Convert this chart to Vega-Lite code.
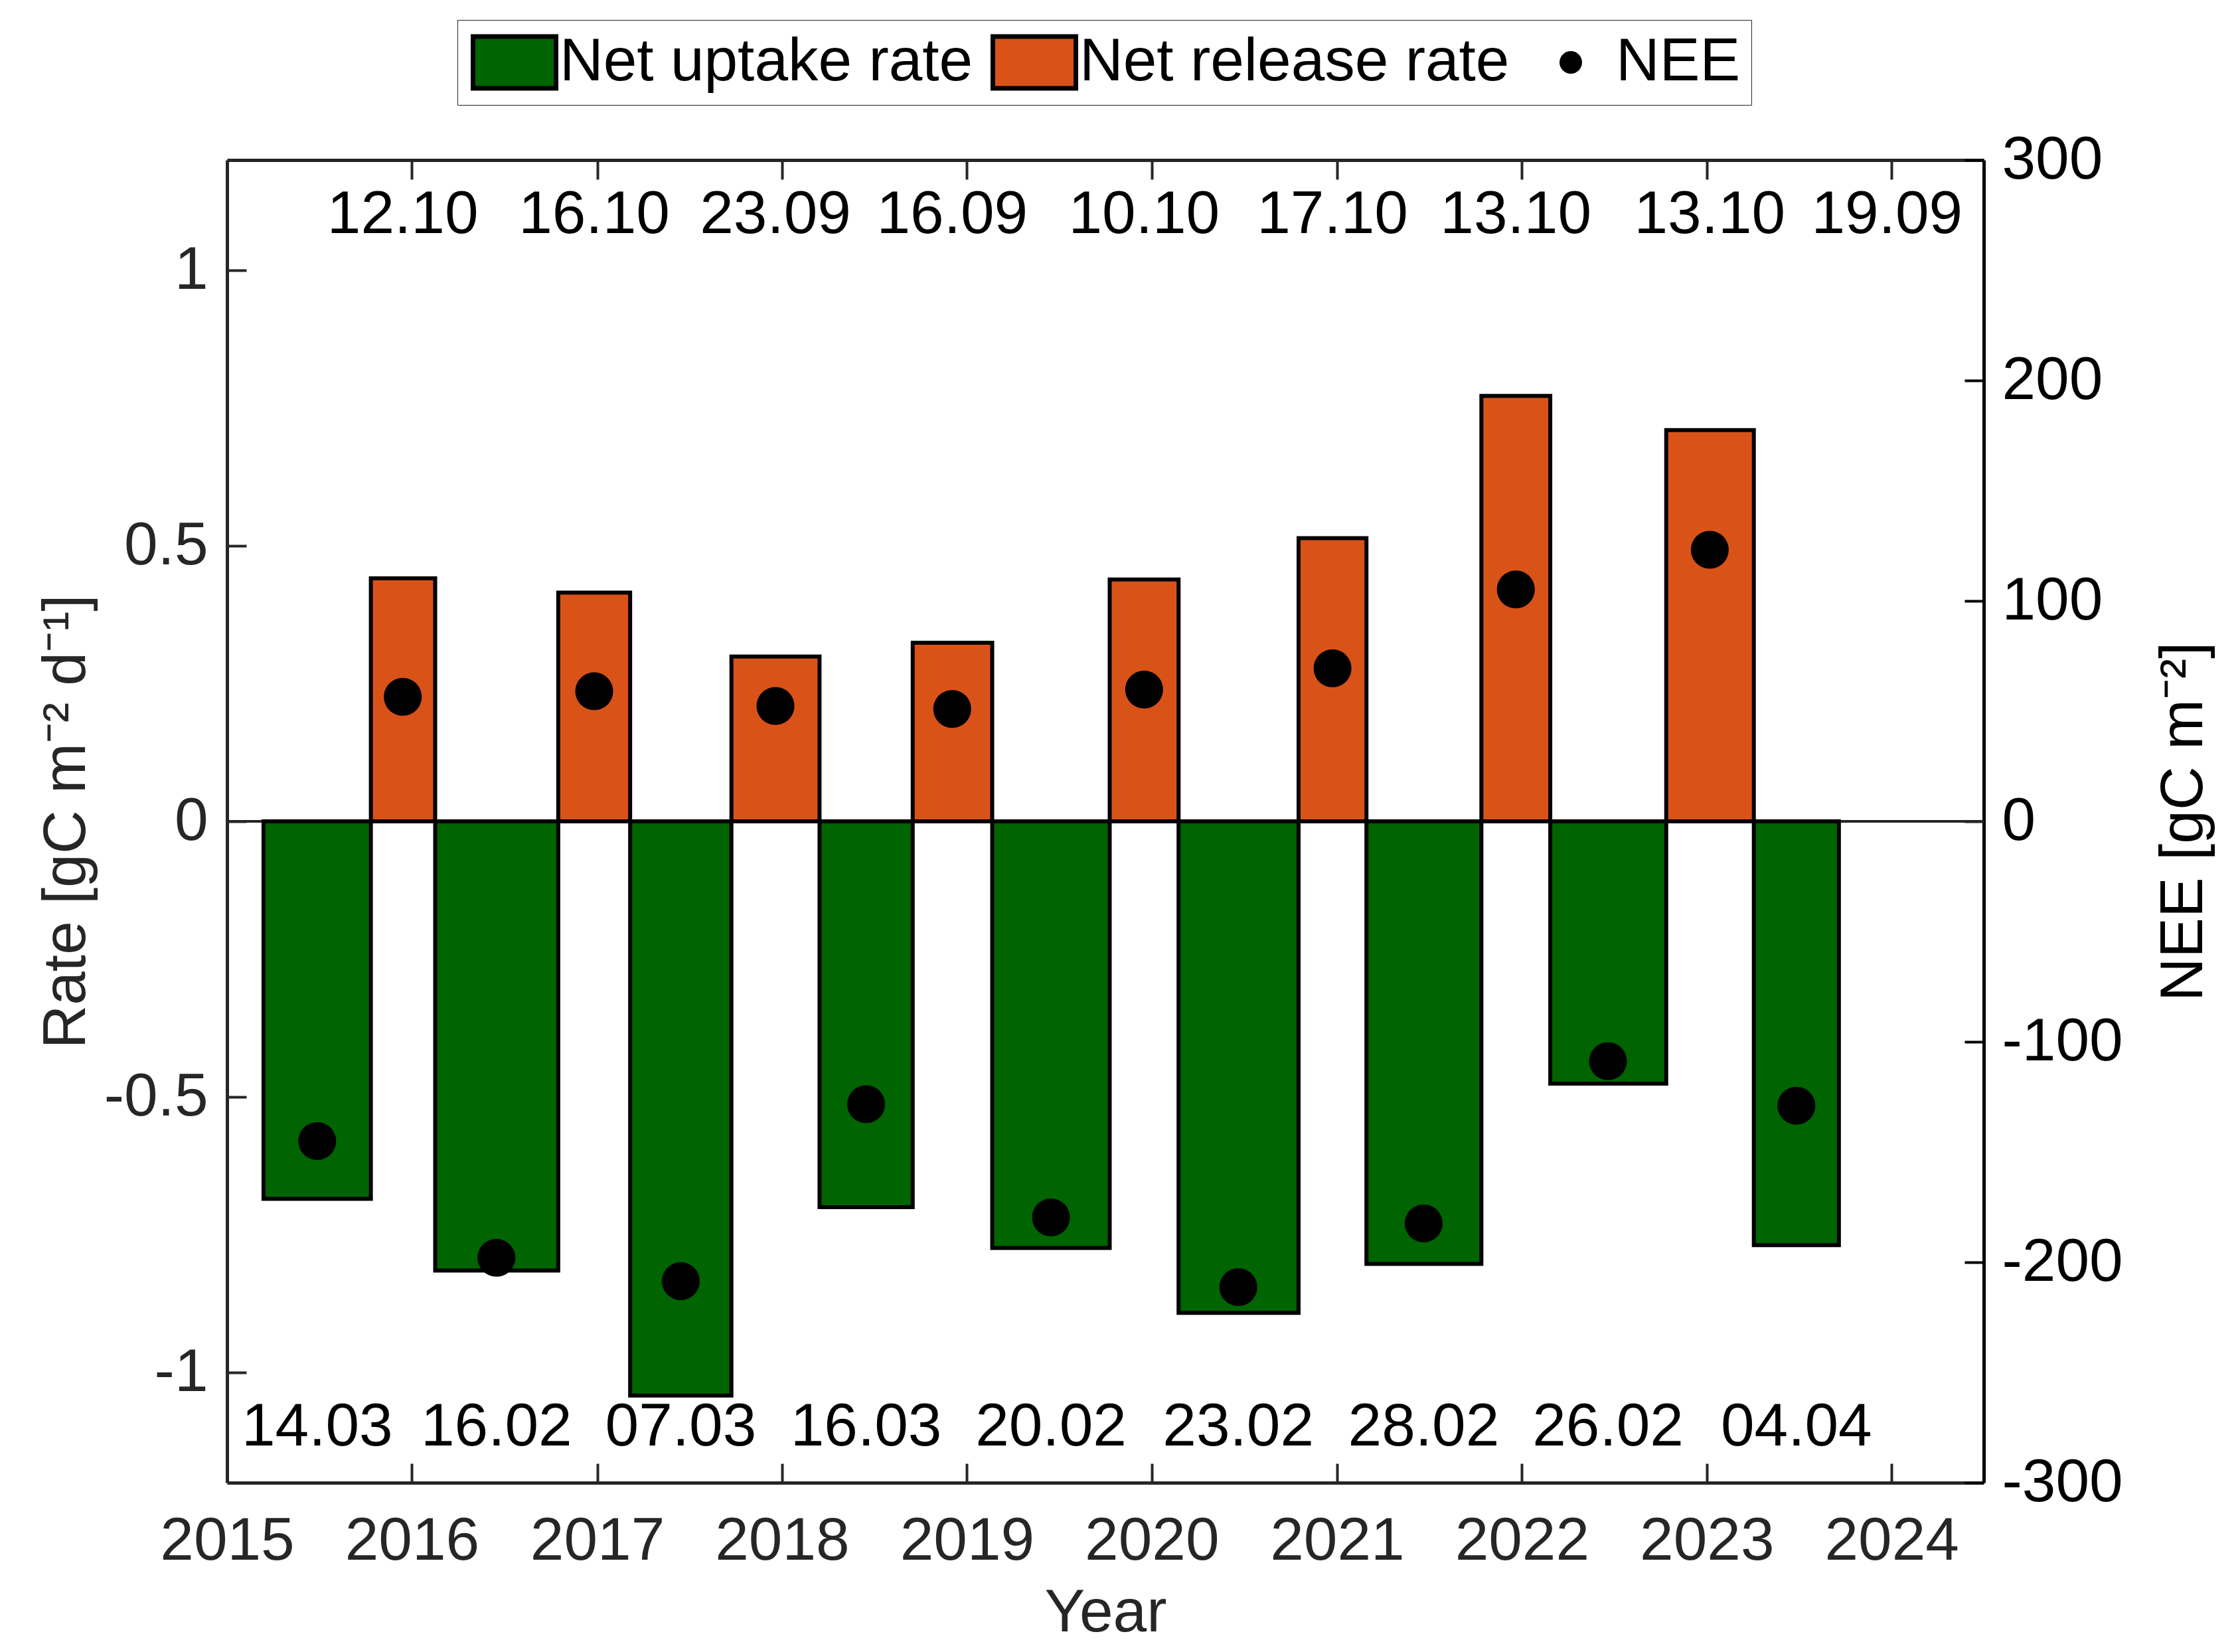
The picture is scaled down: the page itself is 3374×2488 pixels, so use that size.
{
  "$schema": "https://vega.github.io/schema/vega-lite/v6.json",
  "width": 2646,
  "height": 1992,
  "autosize": {"type": "none"},
  "padding": {"left": 342, "top": 241, "right": 386, "bottom": 255},
  "background": "white",
  "config": {
    "font": "Liberation Sans",
    "view": {"stroke": null},
    "axis": {
      "grid": false,
      "labelFont": "Liberation Sans",
      "titleFont": "Liberation Sans",
      "labelFontSize": 91,
      "titleFontSize": 91,
      "titleFontWeight": "normal",
      "tickSize": -29,
      "tickWidth": 4,
      "domainWidth": 5,
      "labelLimit": 600,
      "labelOverlap": false,
      "labelFlush": false,
      "labelBound": false
    },
    "legend": {
      "title": null,
      "orient": "none",
      "legendX": 347,
      "legendY": -211,
      "direction": "horizontal",
      "columns": 3,
      "symbolSize": 15625,
      "symbolOffset": 4,
      "symbolOpacity": 1,
      "clipHeight": 96,
      "labelFont": "Liberation Sans",
      "labelFontSize": 91,
      "labelColor": "black",
      "labelOffset": 2,
      "labelLimit": 1000,
      "columnPadding": 22,
      "padding": 16,
      "strokeColor": "#262626",
      "fillColor": "white"
    }
  },
  "datasets": {
    "bars": [
      {"series": "Net uptake rate", "start": "2015-03-14", "end": "2015-10-12", "mid": "2015-06-28", "rate": -0.685, "nee": -145},
      {"series": "Net release rate", "start": "2015-10-12", "end": "2016-02-16", "mid": "2015-12-14", "rate": 0.441, "nee": 56.5},
      {"series": "Net uptake rate", "start": "2016-02-16", "end": "2016-10-16", "mid": "2016-06-16", "rate": -0.815, "nee": -198},
      {"series": "Net release rate", "start": "2016-10-16", "end": "2017-03-07", "mid": "2016-12-26", "rate": 0.415, "nee": 59},
      {"series": "Net uptake rate", "start": "2017-03-07", "end": "2017-09-23", "mid": "2017-06-15", "rate": -1.042, "nee": -208.6},
      {"series": "Net release rate", "start": "2017-09-23", "end": "2018-03-16", "mid": "2017-12-19", "rate": 0.299, "nee": 52.3},
      {"series": "Net uptake rate", "start": "2018-03-16", "end": "2018-09-16", "mid": "2018-06-16", "rate": -0.700, "nee": -128.3},
      {"series": "Net release rate", "start": "2018-09-16", "end": "2019-02-20", "mid": "2018-12-03", "rate": 0.324, "nee": 51},
      {"series": "Net uptake rate", "start": "2019-02-20", "end": "2019-10-10", "mid": "2019-06-16", "rate": -0.774, "nee": -179.7},
      {"series": "Net release rate", "start": "2019-10-10", "end": "2020-02-23", "mid": "2019-12-17", "rate": 0.439, "nee": 59.8},
      {"series": "Net uptake rate", "start": "2020-02-23", "end": "2020-10-17", "mid": "2020-06-20", "rate": -0.892, "nee": -211.3},
      {"series": "Net release rate", "start": "2020-10-17", "end": "2021-02-28", "mid": "2020-12-23", "rate": 0.514, "nee": 69.4},
      {"series": "Net uptake rate", "start": "2021-02-28", "end": "2021-10-13", "mid": "2021-06-21", "rate": -0.803, "nee": -182.4},
      {"series": "Net release rate", "start": "2021-10-13", "end": "2022-02-26", "mid": "2021-12-20", "rate": 0.772, "nee": 105.2},
      {"series": "Net uptake rate", "start": "2022-02-26", "end": "2022-10-13", "mid": "2022-06-20", "rate": -0.476, "nee": -108.8},
      {"series": "Net release rate", "start": "2022-10-13", "end": "2023-04-04", "mid": "2023-01-07", "rate": 0.710, "nee": 123.2},
      {"series": "Net uptake rate", "start": "2023-04-04", "end": "2023-09-19", "mid": "2023-06-27", "rate": -0.769, "nee": -129}
    ],
    "labels": [
      {"pos": "bottom", "date": "2015-06-28", "label": "14.03"},
      {"pos": "bottom", "date": "2016-06-16", "label": "16.02"},
      {"pos": "bottom", "date": "2017-06-15", "label": "07.03"},
      {"pos": "bottom", "date": "2018-06-16", "label": "16.03"},
      {"pos": "bottom", "date": "2019-06-16", "label": "20.02"},
      {"pos": "bottom", "date": "2020-06-20", "label": "23.02"},
      {"pos": "bottom", "date": "2021-06-21", "label": "28.02"},
      {"pos": "bottom", "date": "2022-06-20", "label": "26.02"},
      {"pos": "bottom", "date": "2023-06-27", "label": "04.04"},
      {"pos": "top", "date": "2015-12-14", "label": "12.10"},
      {"pos": "top", "date": "2016-12-26", "label": "16.10"},
      {"pos": "top", "date": "2017-12-19", "label": "23.09"},
      {"pos": "top", "date": "2018-12-03", "label": "16.09"},
      {"pos": "top", "date": "2019-12-17", "label": "10.10"},
      {"pos": "top", "date": "2020-12-23", "label": "17.10"},
      {"pos": "top", "date": "2021-12-20", "label": "13.10"},
      {"pos": "top", "date": "2023-01-07", "label": "13.10"},
      {"pos": "top", "date": "2023-12-23", "label": "19.09"}
    ]
  },
  "layer": [
    {
      "data": {"name": "bars"},
      "mark": {"type": "rule", "color": "#262626", "strokeWidth": 4},
      "encoding": {
        "y": {"datum": 0, "type": "quantitative", "scale": {"domain": [-1.2, 1.2], "nice": false, "zero": false}, "axis": null}
      }
    },
    {
      "data": {"name": "bars"},
      "mark": {"type": "bar", "stroke": "black", "strokeWidth": 6, "opacity": 1},
      "encoding": {
        "x": {
          "field": "start", "type": "temporal",
          "scale": {"type": "utc", "domain": [{"year": 2015, "month": 1, "date": 1, "utc": true}, {"year": 2024, "month": 7, "date": 1, "utc": true}]},
          "axis": {
            "orient": "bottom",
            "values": [
              {"year": 2015, "month": 1, "date": 1, "utc": true},
              {"year": 2016, "month": 1, "date": 1, "utc": true},
              {"year": 2017, "month": 1, "date": 1, "utc": true},
              {"year": 2018, "month": 1, "date": 1, "utc": true},
              {"year": 2019, "month": 1, "date": 1, "utc": true},
              {"year": 2020, "month": 1, "date": 1, "utc": true},
              {"year": 2021, "month": 1, "date": 1, "utc": true},
              {"year": 2022, "month": 1, "date": 1, "utc": true},
              {"year": 2023, "month": 1, "date": 1, "utc": true},
              {"year": 2024, "month": 1, "date": 1, "utc": true}
            ],
            "format": "%Y",
            "title": "Year",
            "labelPadding": 72,
            "titlePadding": 18,
            "labelColor": "#262626",
            "titleColor": "#262626",
            "tickColor": "#262626",
            "domainColor": "#262626"
          }
        },
        "x2": {"field": "end"},
        "y": {
          "field": "rate", "type": "quantitative",
          "scale": {"domain": [-1.2, 1.2], "nice": false, "zero": false},
          "axis": {
            "orient": "left",
            "values": [-1, -0.5, 0, 0.5, 1],
            "labelExpr": "datum.value + ''",
            "title": "Rate [gC m⁻² d⁻¹]",
            "titleAngle": 270,
            "titleBaseline": "bottom",
            "titlePadding": 10,
            "labelPadding": 58,
            "labelColor": "#262626",
            "titleColor": "#262626",
            "tickColor": "#262626",
            "domainColor": "#262626"
          }
        },
        "y2": {"datum": 0},
        "color": {
          "field": "series", "type": "nominal",
          "scale": {"domain": ["Net uptake rate", "Net release rate", "NEE"], "range": ["#006400", "#D95319", "#000000"]},
          "legend": {"title": null, "orient": "none", "legendX": 347, "legendY": -211}
        }
      }
    },
    {
      "data": {"name": "labels"},
      "transform": [{"filter": "datum.pos === 'top'"}],
      "mark": {"type": "text", "font": "Liberation Sans", "fontSize": 91, "color": "black", "align": "center", "baseline": "middle"},
      "encoding": {
        "x": {"field": "date", "type": "temporal", "scale": {"type": "utc", "domain": [{"year": 2015, "month": 1, "date": 1, "utc": true}, {"year": 2024, "month": 7, "date": 1, "utc": true}]}, "axis": null},
        "y": {"datum": 1.1, "type": "quantitative", "scale": {"domain": [-1.2, 1.2], "nice": false, "zero": false}, "axis": null},
        "text": {"field": "label"}
      }
    },
    {
      "data": {"name": "labels"},
      "transform": [{"filter": "datum.pos === 'bottom'"}],
      "mark": {"type": "text", "font": "Liberation Sans", "fontSize": 91, "color": "black", "align": "center", "baseline": "middle"},
      "encoding": {
        "x": {"field": "date", "type": "temporal", "scale": {"type": "utc", "domain": [{"year": 2015, "month": 1, "date": 1, "utc": true}, {"year": 2024, "month": 7, "date": 1, "utc": true}]}, "axis": null},
        "y": {"datum": -1.1, "type": "quantitative", "scale": {"domain": [-1.2, 1.2], "nice": false, "zero": false}, "axis": null},
        "text": {"field": "label"}
      }
    },
    {
      "data": {"name": "bars"},
      "mark": {"type": "point", "filled": true, "size": 43930, "opacity": 1, "color": "black"},
      "encoding": {
        "x": {
          "field": "mid", "type": "temporal",
          "scale": {"type": "utc", "domain": [{"year": 2015, "month": 1, "date": 1, "utc": true}, {"year": 2024, "month": 7, "date": 1, "utc": true}]},
          "axis": {
            "orient": "top",
            "values": [
              {"year": 2016, "month": 1, "date": 1, "utc": true},
              {"year": 2017, "month": 1, "date": 1, "utc": true},
              {"year": 2018, "month": 1, "date": 1, "utc": true},
              {"year": 2019, "month": 1, "date": 1, "utc": true},
              {"year": 2020, "month": 1, "date": 1, "utc": true},
              {"year": 2021, "month": 1, "date": 1, "utc": true},
              {"year": 2022, "month": 1, "date": 1, "utc": true},
              {"year": 2023, "month": 1, "date": 1, "utc": true},
              {"year": 2024, "month": 1, "date": 1, "utc": true}
            ],
            "labels": false,
            "title": null,
            "tickColor": "#262626",
            "domainColor": "#262626"
          }
        },
        "y": {
          "field": "nee", "type": "quantitative",
          "scale": {"domain": [-300, 300], "nice": false, "zero": false},
          "axis": {
            "orient": "right",
            "values": [-300, -200, -100, 0, 100, 200, 300],
            "labelExpr": "datum.value + ''",
            "title": "NEE [gC m⁻²]",
            "titleAngle": 270,
            "titleBaseline": "top",
            "titlePadding": 56,
            "labelPadding": 56,
            "labelColor": "black",
            "titleColor": "black",
            "tickColor": "black",
            "domainColor": "black"
          }
        },
        "shape": {
          "datum": "NEE", "type": "nominal",
          "scale": {
            "domain": ["Net uptake rate", "Net release rate", "NEE"],
            "range": ["M-1,-0.624H1V0.624H-1Z", "M-1,-0.624H1V0.624H-1Z", "M0.272,0A0.272,0.272 0 1,1 -0.272,0A0.272,0.272 0 1,1 0.272,0Z"]
          },
          "legend": {"title": null, "orient": "none", "legendX": 347, "legendY": -211}
        },
        "stroke": {
          "datum": "NEE", "type": "nominal",
          "scale": {"domain": ["Net uptake rate", "Net release rate", "NEE"], "range": ["#000000", "#000000", "#000000"]},
          "legend": {"title": null, "orient": "none", "legendX": 347, "legendY": -211}
        },
        "strokeWidth": {
          "datum": "NEE", "type": "ordinal",
          "scale": {"type": "ordinal", "domain": ["Net uptake rate", "Net release rate", "NEE"], "range": [7, 7, 0]},
          "legend": {"title": null, "orient": "none", "legendX": 347, "legendY": -211}
        }
      }
    }
  ],
  "resolve": {"scale": {"y": "independent"}, "axis": {"x": "independent"}}
}
